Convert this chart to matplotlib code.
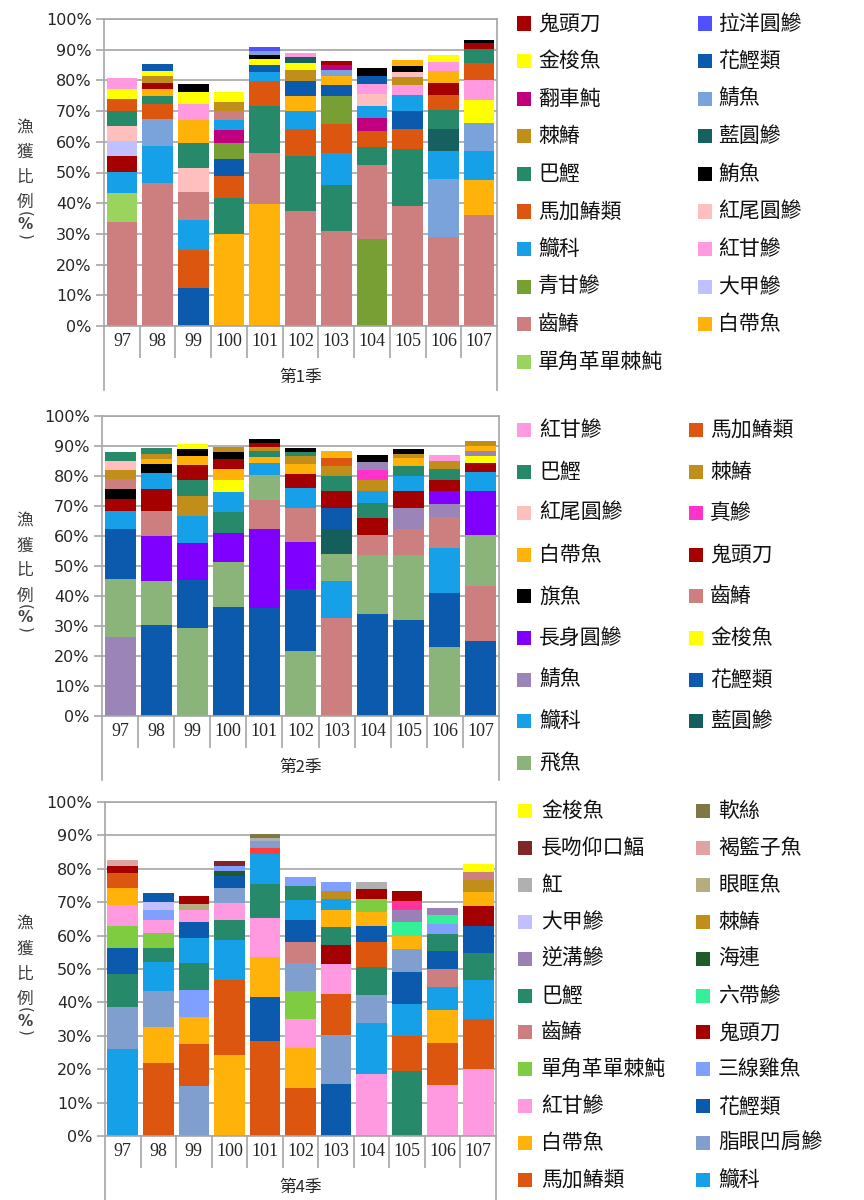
import matplotlib
matplotlib.use("Agg")
import matplotlib.pyplot as plt
from matplotlib.patches import Rectangle
from matplotlib.lines import Line2D
import numpy as np

plt.rcParams['font.family'] = ['Noto Sans CJK TC', 'DejaVu Sans']

YEARS = ['97', '98', '99', '100', '101', '102', '103', '104', '105', '106', '107']

# ---- 第1季 ----
Q1_STACKS = [
    [("齒鰆", 33.9), ("單角革單棘魨", 9.3), ("鱵科", 6.9), ("鬼頭刀", 5.4), ("大甲鰺", 4.9),
     ("紅尾圓鰺", 4.9), ("巴鰹", 4.8), ("馬加鰆類", 3.8), ("金梭魚", 3.4), ("紅甘鰺", 3.5)],
    [("齒鰆", 46.5), ("鱵科", 12.0), ("鯖魚", 8.9), ("馬加鰆類", 4.8), ("巴鰹", 2.6),
     ("白帶魚", 2.4), ("鬼頭刀", 2.1), ("棘鰆", 2.0), ("金梭魚", 1.9), ("花鰹類", 2.1)],
    [("花鰹類", 12.5), ("馬加鰆類", 12.1), ("鱵科", 10.0), ("齒鰆", 9.0), ("紅尾圓鰺", 8.0),
     ("巴鰹", 8.0), ("白帶魚", 7.6), ("紅甘鰺", 5.1), ("金梭魚", 3.8), ("鮪魚", 2.8)],
    [("白帶魚", 30.0), ("巴鰹", 11.8), ("馬加鰆類", 7.2), ("花鰹類", 5.5), ("青甘鰺", 5.1),
     ("翻車魨", 4.1), ("鱵科", 3.5), ("齒鰆", 2.9), ("棘鰆", 2.9), ("金梭魚", 3.3)],
    [("白帶魚", 39.8), ("齒鰆", 16.5), ("巴鰹", 15.4), ("馬加鰆類", 8.0), ("鱵科", 3.1),
     ("花鰹類", 2.3), ("金梭魚", 2.0), ("鮪魚", 1.3), ("鯖魚", 1.1), ("拉洋圓鰺", 1.3)],
    [("齒鰆", 37.4), ("巴鰹", 18.0), ("馬加鰆類", 8.8), ("鱵科", 5.7), ("白帶魚", 4.9),
     ("花鰹類", 5.1), ("棘鰆", 3.4), ("金梭魚", 2.4), ("藍圓鰺", 1.8), ("紅甘鰺", 1.4)],
    [("齒鰆", 30.9), ("巴鰹", 14.9), ("鱵科", 10.5), ("馬加鰆類", 9.4), ("青甘鰺", 9.3),
     ("花鰹類", 3.6), ("白帶魚", 2.7), ("鯖魚", 2.2), ("翻車魨", 1.4), ("鬼頭刀", 1.5)],
    [("青甘鰺", 28.3), ("齒鰆", 24.0), ("巴鰹", 5.9), ("馬加鰆類", 5.2), ("翻車魨", 4.2),
     ("鱵科", 4.1), ("紅尾圓鰺", 4.0), ("紅甘鰺", 3.2), ("花鰹類", 2.6), ("鮪魚", 2.5)],
    [("齒鰆", 39.2), ("巴鰹", 18.3), ("馬加鰆類", 6.6), ("花鰹類", 5.8), ("鱵科", 5.2),
     ("紅甘鰺", 3.5), ("棘鰆", 2.4), ("紅尾圓鰺", 1.7), ("鮪魚", 2.1), ("白帶魚", 1.9)],
    [("齒鰆", 28.9), ("鯖魚", 19.0), ("鱵科", 9.2), ("藍圓鰺", 7.2), ("巴鰹", 6.1),
     ("馬加鰆類", 4.8), ("鬼頭刀", 3.9), ("白帶魚", 3.8), ("紅甘鰺", 3.0), ("金梭魚", 2.5)],
    [("齒鰆", 36.2), ("白帶魚", 11.3), ("鱵科", 9.6), ("鯖魚", 9.0), ("金梭魚", 7.5),
     ("紅甘鰺", 6.6), ("馬加鰆類", 5.5), ("巴鰹", 4.6), ("鬼頭刀", 1.8), ("鮪魚", 1.2)],
]
Q1_LEGEND = [
    ["鬼頭刀", "金梭魚", "翻車魨", "棘鰆", "巴鰹", "馬加鰆類", "鱵科", "青甘鰺", "齒鰆", "單角革單棘魨"],
    ["拉洋圓鰺", "花鰹類", "鯖魚", "藍圓鰺", "鮪魚", "紅尾圓鰺", "紅甘鰺", "大甲鰺", "白帶魚"],
]

# ---- 第2季 ----
Q2_STACKS = [
    [("鯖魚", 26.4), ("飛魚", 19.4), ("花鰹類", 16.6), ("鱵科", 5.9), ("鬼頭刀", 3.9),
     ("旗魚", 3.4), ("齒鰆", 3.3), ("棘鰆", 3.2), ("紅尾圓鰺", 3.0), ("巴鰹", 3.0)],
    [("花鰹類", 30.3), ("飛魚", 14.8), ("長身圓鰺", 14.9), ("齒鰆", 8.4), ("鬼頭刀", 7.4),
     ("鱵科", 5.3), ("旗魚", 2.8), ("白帶魚", 1.7), ("棘鰆", 1.6), ("巴鰹", 2.1)],
    [("飛魚", 29.4), ("花鰹類", 15.8), ("長身圓鰺", 12.4), ("鱵科", 9.0), ("棘鰆", 6.8),
     ("巴鰹", 5.3), ("鬼頭刀", 4.9), ("白帶魚", 3.0), ("旗魚", 2.3), ("金梭魚", 1.9)],
    [("花鰹類", 36.3), ("飛魚", 15.0), ("長身圓鰺", 9.6), ("巴鰹", 7.1), ("鱵科", 6.6),
     ("金梭魚", 4.2), ("白帶魚", 3.4), ("鬼頭刀", 3.4), ("旗魚", 2.3), ("棘鰆", 1.8)],
    [("花鰹類", 36.0), ("長身圓鰺", 26.5), ("齒鰆", 9.6), ("飛魚", 8.4), ("鱵科", 3.9),
     ("白帶魚", 1.9), ("巴鰹", 2.0), ("棘鰆", 1.4), ("鬼頭刀", 1.3), ("旗魚", 1.5)],
    [("飛魚", 21.6), ("花鰹類", 20.9), ("長身圓鰺", 15.5), ("齒鰆", 11.5), ("鱵科", 6.5),
     ("鬼頭刀", 4.7), ("白帶魚", 3.3), ("棘鰆", 2.6), ("巴鰹", 1.5), ("旗魚", 1.2)],
    [("齒鰆", 32.7), ("鱵科", 12.3), ("飛魚", 9.1), ("藍圓鰺", 8.2), ("花鰹類", 7.1),
     ("鬼頭刀", 5.6), ("巴鰹", 4.9), ("棘鰆", 3.3), ("馬加鰆類", 2.8), ("白帶魚", 2.2)],
    [("花鰹類", 33.9), ("飛魚", 19.9), ("齒鰆", 6.7), ("鬼頭刀", 5.5), ("巴鰹", 5.0),
     ("鱵科", 4.0), ("棘鰆", 3.6), ("真鰺", 3.3), ("鯖魚", 2.8), ("旗魚", 2.2)],
    [("花鰹類", 31.9), ("飛魚", 21.9), ("齒鰆", 8.5), ("鯖魚", 7.1), ("鬼頭刀", 5.5),
     ("鱵科", 5.0), ("巴鰹", 3.3), ("白帶魚", 2.8), ("棘鰆", 1.3), ("旗魚", 1.8)],
    [("飛魚", 22.9), ("花鰹類", 18.2), ("鱵科", 14.8), ("齒鰆", 10.5), ("鯖魚", 4.3),
     ("長身圓鰺", 4.2), ("鬼頭刀", 3.9), ("巴鰹", 3.7), ("棘鰆", 2.4), ("紅甘鰺", 2.2)],
    [("花鰹類", 25.0), ("齒鰆", 18.3), ("飛魚", 17.0), ("長身圓鰺", 14.6), ("鱵科", 6.6),
     ("鬼頭刀", 3.0), ("金梭魚", 2.2), ("鯖魚", 1.8), ("白帶魚", 1.6), ("棘鰆", 1.7)],
]
Q2_LEGEND = [
    ["紅甘鰺", "巴鰹", "紅尾圓鰺", "白帶魚", "旗魚", "長身圓鰺", "鯖魚", "鱵科", "飛魚"],
    ["馬加鰆類", "棘鰆", "真鰺", "鬼頭刀", "齒鰆", "金梭魚", "花鰹類", "藍圓鰺"],
]

# ---- 第4季 ----  ("未標示1/2" appear in bars but not in the legend)
Q4_STACKS = [
    [("鱵科", 25.9), ("脂眼凹肩鰺", 12.7), ("巴鰹", 9.8), ("花鰹類", 8.0), ("單角革單棘魨", 6.4),
     ("紅甘鰺", 6.5), ("白帶魚", 4.9), ("馬加鰆類", 4.5), ("鬼頭刀", 2.1), ("褐籃子魚", 1.8)],
    [("馬加鰆類", 21.8), ("白帶魚", 10.9), ("脂眼凹肩鰺", 10.7), ("鱵科", 8.6), ("巴鰹", 4.3),
     ("單角革單棘魨", 4.5), ("紅甘鰺", 3.9), ("三線雞魚", 3.1), ("大甲鰺", 2.4), ("花鰹類", 2.5)],
    [("脂眼凹肩鰺", 15.0), ("馬加鰆類", 12.4), ("白帶魚", 8.3), ("三線雞魚", 8.1), ("巴鰹", 7.9),
     ("鱵科", 7.5), ("花鰹類", 4.9), ("紅甘鰺", 3.6), ("眼眶魚", 1.7), ("鬼頭刀", 2.5)],
    [("白帶魚", 24.3), ("馬加鰆類", 22.3), ("鱵科", 12.2), ("巴鰹", 6.0), ("紅甘鰺", 4.9),
     ("脂眼凹肩鰺", 4.5), ("花鰹類", 3.5), ("海連", 1.6), ("三線雞魚", 1.4), ("長吻仰口鰏", 1.6)],
    [("馬加鰆類", 28.5), ("花鰹類", 13.0), ("白帶魚", 12.2), ("紅甘鰺", 11.7), ("巴鰹", 9.9),
     ("鱵科", 9.1), ("未標示1", 1.9), ("脂眼凹肩鰺", 1.9), ("魟", 1.0), ("軟絲", 1.2)],
    [("馬加鰆類", 14.5), ("白帶魚", 11.7), ("紅甘鰺", 8.8), ("單角革單棘魨", 8.5), ("脂眼凹肩鰺", 8.4),
     ("齒鰆", 6.3), ("花鰹類", 6.6), ("鱵科", 5.9), ("巴鰹", 4.3), ("三線雞魚", 2.5)],
    [("花鰹類", 15.7), ("脂眼凹肩鰺", 14.5), ("馬加鰆類", 12.2), ("紅甘鰺", 9.0), ("鬼頭刀", 5.9),
     ("巴鰹", 5.3), ("白帶魚", 5.1), ("鱵科", 3.2), ("棘鰆", 2.6), ("三線雞魚", 2.4)],
    [("紅甘鰺", 18.5), ("鱵科", 15.3), ("脂眼凹肩鰺", 8.4), ("巴鰹", 8.5), ("馬加鰆類", 7.5),
     ("花鰹類", 4.8), ("白帶魚", 4.2), ("單角革單棘魨", 3.8), ("鬼頭刀", 2.9), ("魟", 2.1)],
    [("巴鰹", 19.6), ("馬加鰆類", 10.2), ("鱵科", 9.7), ("花鰹類", 9.5), ("脂眼凹肩鰺", 7.0),
     ("白帶魚", 3.9), ("六帶鰺", 4.1), ("逆溝鰺", 3.7), ("未標示2", 2.8), ("鬼頭刀", 2.9)],
    [("紅甘鰺", 15.3), ("馬加鰆類", 12.4), ("白帶魚", 10.0), ("鱵科", 6.8), ("齒鰆", 5.5),
     ("花鰹類", 5.3), ("巴鰹", 5.1), ("三線雞魚", 3.0), ("六帶鰺", 2.8), ("逆溝鰺", 2.2)],
    [("紅甘鰺", 20.1), ("馬加鰆類", 14.9), ("鱵科", 11.6), ("巴鰹", 8.2), ("花鰹類", 8.0),
     ("鬼頭刀", 6.1), ("白帶魚", 4.3), ("棘鰆", 3.4), ("齒鰆", 2.3), ("金梭魚", 2.6)],
]
Q4_LEGEND = [
    ["金梭魚", "長吻仰口鰏", "魟", "大甲鰺", "逆溝鰺", "巴鰹", "齒鰆", "單角革單棘魨", "紅甘鰺", "白帶魚", "馬加鰆類"],
    ["軟絲", "褐籃子魚", "眼眶魚", "棘鰆", "海連", "六帶鰺", "鬼頭刀", "三線雞魚", "花鰹類", "脂眼凹肩鰺", "鱵科"],
]

# colours shared by all panels, then per-panel differences
BASE_COLORS = {
    "鬼頭刀": "#a50000", "金梭魚": "#ffff00", "翻車魨": "#c0007f", "棘鰆": "#c28e1a",
    "巴鰹": "#268a6a", "馬加鰆類": "#dc560f", "鱵科": "#15a0e8", "青甘鰺": "#779f33",
    "齒鰆": "#cd7f7f", "單角革單棘魨": "#9bd35f", "拉洋圓鰺": "#5050ff", "花鰹類": "#0c5aae",
    "鯖魚": "#7ba3db", "藍圓鰺": "#176060", "鮪魚": "#000000", "旗魚": "#000000",
    "紅尾圓鰺": "#ffbfbf", "紅甘鰺": "#ff99e0", "大甲鰺": "#c0c0ff", "白帶魚": "#ffb30a",
    "長身圓鰺": "#8000ff", "飛魚": "#8ab47a", "真鰺": "#ff33cc",
    "軟絲": "#7f7744", "長吻仰口鰏": "#802528", "褐籃子魚": "#e0a3a3", "魟": "#b0b0b0",
    "眼眶魚": "#b5ad80", "逆溝鰺": "#9b80b8", "海連": "#1f5a2a", "六帶鰺": "#33f099",
    "三線雞魚": "#7fa0ff", "脂眼凹肩鰺": "#809fcf", "未標示1": "#ff3d3d", "未標示2": "#ff3399",
}
Q1_COLORS = dict(BASE_COLORS)
Q2_COLORS = dict(BASE_COLORS, 鯖魚="#9b84b8", 藍圓鰺="#145e5c")
Q4_COLORS = dict(BASE_COLORS, 單角革單棘魨="#80cc40")

W, H = 864, 1200
GRID = "#a6a6a6"
fig = plt.figure(figsize=(W / 100, H / 100), dpi=100)


def fx(px):
    return px / W


def fy(py):
    return 1 - py / H


def draw_ylabel(cy):
    # vertical label 漁獲比例(%), one glyph per line, brackets turned on their side
    for ch, off in [("漁", -45), ("獲", -20), ("比", 5), ("例", 30)]:
        fig.text(fx(25), fy(cy + off), ch, ha="center", va="center", fontsize=12, color="#404040")
    fig.text(fx(25), fy(cy + 41), "(", ha="center", va="center", rotation=-90,
             family="DejaVu Sans", fontsize=11, color="#404040")
    fig.text(fx(25), fy(cy + 52), "%", ha="center", va="center", fontweight="bold",
             family="DejaVu Sans", fontsize=11, color="#404040")
    fig.text(fx(25), fy(cy + 64), ")", ha="center", va="center", rotation=-90,
             family="DejaVu Sans", fontsize=11, color="#404040")


def draw_panel(box, stacks, colors, legend, season, ext, leg):
    l, r, t, b = box
    ax = fig.add_axes([fx(l), fy(b), (r - l) / W, (b - t) / H])
    for i, stack in enumerate(stacks):
        bottom = 0
        for sp, v in stack:
            ax.bar(i, v, bottom=bottom, width=0.86, color=colors[sp], linewidth=0)
            bottom += v
    ax.set_xlim(-0.5, len(YEARS) - 0.5)
    ax.set_ylim(0, 100)
    ax.set_yticks(range(0, 101, 10))
    ax.set_yticklabels([f"{v}%" for v in range(0, 101, 10)], fontsize=11.5,
                       family="DejaVu Sans", color="#262626")
    ax.yaxis.grid(True, color=GRID, lw=1.2)
    ax.set_axisbelow(True)
    ax.tick_params(axis="y", length=6, color=GRID, width=1.2, pad=3)
    for s in ax.spines.values():
        s.set_color(GRID)
        s.set_linewidth(1.2)

    # two level category axis: years, then the season
    ax.set_xticks(np.arange(0.5, len(YEARS) - 1, 1))
    ax.set_xticklabels([])
    ax.tick_params(axis="x", which="major", length=23, color=GRID, width=1.2)
    ax.set_xticks(np.arange(len(YEARS)), minor=True)
    ax.set_xticklabels(YEARS, minor=True, fontsize=13, family="Liberation Serif", color="#262626")
    ax.tick_params(axis="x", which="minor", length=0, pad=5)
    hgt = b - t
    for xa in (0, 1):
        ax.add_line(Line2D([xa, xa], [0, -ext / hgt], transform=ax.transAxes,
                           clip_on=False, color=GRID, lw=1.2))
    ax.text(0.5, -51 / hgt, season, transform=ax.transAxes, ha="center", va="center",
            fontsize=12, color="#262626")

    draw_ylabel((t + b) / 2)

    # legend, two columns
    y0, dy, cols = leg
    for names, (sx, tx) in zip(legend, cols):
        for k, name in enumerate(names):
            y = y0 + k * dy
            fig.add_artist(Rectangle((fx(sx), fy(y + 7)), 14 / W, 14 / H,
                                     transform=fig.transFigure, color=colors[name], lw=0))
            fig.text(fx(tx), fy(y), name, ha="left", va="center", fontsize=15, color="#111111")
    return ax


draw_panel((104, 497, 19, 326), Q1_STACKS, Q1_COLORS, Q1_LEGEND, "第1季", 64,
           (23.5, 37.6, [(517, 538), (698, 718)]))
draw_panel((102, 499, 416, 716), Q2_STACKS, Q2_COLORS, Q2_LEGEND, "第2季", 64,
           (430, 41.6, [(517, 539), (689, 710)]))
draw_panel((105, 496, 802, 1136), Q4_STACKS, Q4_COLORS, Q4_LEGEND, "第4季", 64,
           (811, 36.9, [(518, 541), (696, 718)]))

fig.savefig("out.png", dpi=100, facecolor="white")
